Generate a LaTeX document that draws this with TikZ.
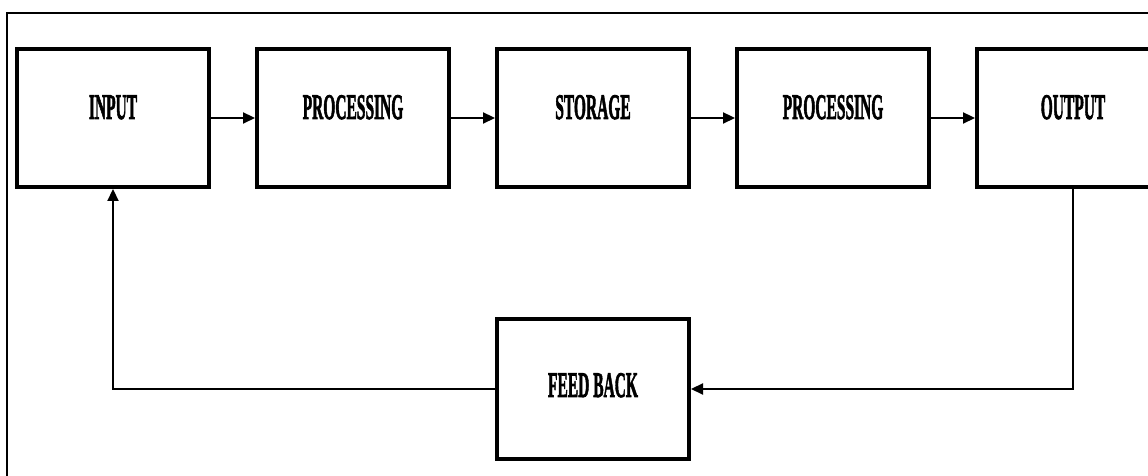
\documentclass[tikz,border=0pt]{standalone}
\usepackage{fontspec}
\setmainfont{Liberation Serif}
\newfontfamily\blockfont{Liberation Serif}[BoldFeatures={FakeBold=2.5}]
\usepackage{graphicx}
\usetikzlibrary{positioning, arrows.meta}

\newcommand{\blocktext}[1]{\scalebox{0.43}[1]{\fontsize{36}{36}\blockfont\bfseries #1}}

\tikzset{
  blockbox/.style={draw, line width=4pt, minimum width=192pt, minimum height=138pt,
    inner sep=0pt, text height=24pt, text depth=22pt},
  flow/.style={line width=2.2pt, -{Triangle[length=12pt,width=11pt]}}
}

\begin{document}
\begin{tikzpicture}[x=1pt, y=1pt, node distance=44pt]
\useasboundingbox (0,0) rectangle (1148,476);

% Rahmen
\draw[line width=2.5pt] (7,0) -- (7,463) -- (1148,463);

% Blocchi
\node[blockbox, anchor=north west] (input) at (15,429) {\blocktext{INPUT}};
\node[blockbox, right=of input] (proc1) {\blocktext{PROCESSING}};
\node[blockbox, right=of proc1] (storage) {\blocktext{STORAGE}};
\node[blockbox, right=of storage] (proc2) {\blocktext{PROCESSING}};
\node[blockbox, right=of proc2] (output) {\blocktext{OUTPUT}};
\node[blockbox, minimum height=140pt, text depth=8pt, below=128pt of storage] (feedback) {\blocktext{FEED BACK}};

% Frecce
\draw[flow] (input) -- (proc1);
\draw[flow] (proc1) -- (storage);
\draw[flow] (storage) -- (proc2);
\draw[flow] (proc2) -- (output);
\draw[flow] (output.south) |- (feedback.east);
\draw[flow] (feedback.west) -| (input.south);

\end{tikzpicture}
\end{document}
